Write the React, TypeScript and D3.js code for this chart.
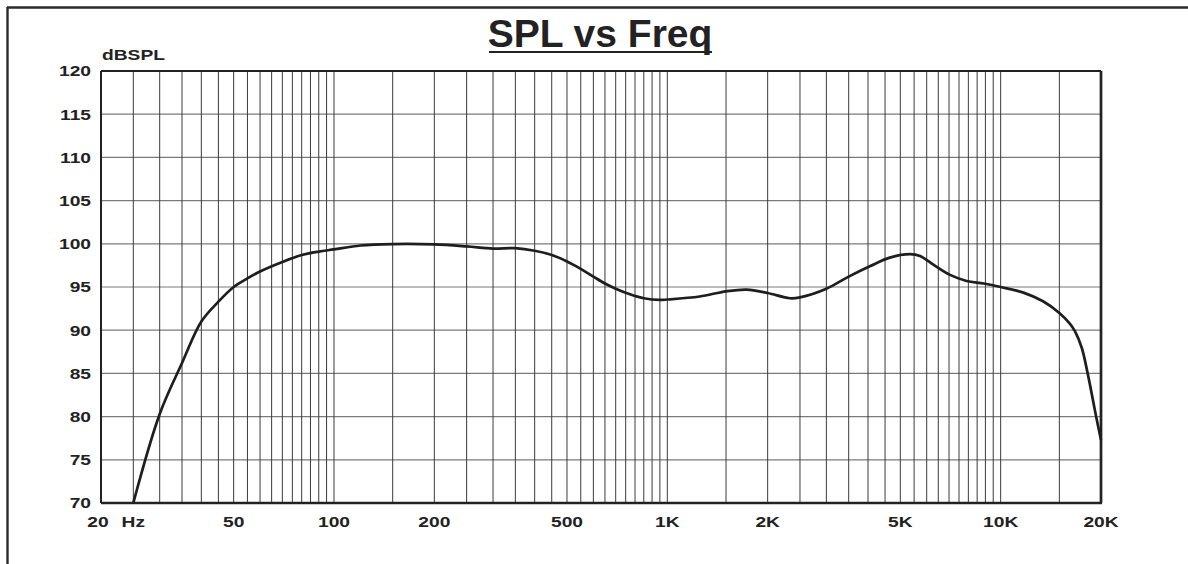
import React from 'react';
import * as d3 from 'd3';

// frequency response (Hz, dB SPL)
const freqs = [25, 30, 35, 40, 45, 50, 55, 60, 70, 80, 90, 100, 120, 150, 200, 250, 300, 350, 400, 450, 500, 550, 600, 650, 700, 780, 850, 950, 1000, 1250, 1500, 1730, 2000, 2330, 2500, 3000, 3500, 4050, 4650, 5350, 5730, 6280, 7050, 7900, 8900, 10000, 11700, 13400, 15000, 16100, 16700, 17500, 18240, 19340, 20000];
const spl = [70, 80.3, 86.2, 91.0, 93.3, 95.0, 96.0, 96.8, 97.9, 98.7, 99.1, 99.35, 99.8, 99.97, 99.93, 99.7, 99.45, 99.5, 99.2, 98.7, 97.96, 97.1, 96.2, 95.4, 94.8, 94.1, 93.7, 93.5, 93.55, 93.9, 94.5, 94.7, 94.3, 93.7, 93.8, 94.8, 96.2, 97.4, 98.4, 98.8, 98.6, 97.6, 96.4, 95.7, 95.4, 95.0, 94.35, 93.35, 92.0, 90.8, 89.9, 88.0, 85.0, 80.0, 77.3];

const xTickValues = [20, 50, 100, 200, 500, 1000, 2000, 5000, 10000, 20000];
const xTickLabels = ['20', '50', '100', '200', '500', '1K', '2K', '5K', '10K', '20K'];
const yTickValues = [70, 75, 80, 85, 90, 95, 100, 105, 110, 115, 120];

const title = 'SPL vs Freq';
const yUnit = 'dBSPL';
const xUnit = 'Hz';

const W = 1188;
const H = 564;
const margin = { left: 101, right: 87, top: 71, bottom: 61 };

const App = () => {
  const x = d3.scaleLog().domain([20, 20000]).range([margin.left, W - margin.right]);
  const y = d3.scaleLinear().domain([70, 120]).range([H - margin.bottom, margin.top]);

  // grid: 5 Hz steps in the first decade, then 50, 500, 5000
  const gridFreqs = [
    ...d3.range(25, 100, 5),
    ...d3.range(100, 1000, 50),
    ...d3.range(1000, 10000, 500),
    10000, 15000,
  ];

  const pts: [number, number][] = freqs.map((f, i) => [x(f), y(spl[i])]);
  const line = d3.line().curve(d3.curveCatmullRom.alpha(0.5));

  const labelFont = {
    fontFamily: '"Liberation Sans", Arial, sans-serif',
    fontWeight: 700,
    fontSize: 15,
    fill: '#222',
  };
  const sx = 1.28; // tick font is drawn wide in the original

  const x0 = margin.left;
  const x1 = W - margin.right;
  const y0 = H - margin.bottom;
  const y1 = margin.top;

  return (
    <svg width={W} height={H} style={{ position: 'absolute', left: 0, top: 0, background: '#fff' }}>
      {/* outer frame (top and left only) */}
      <line x1={7} x2={W} y1={7.5} y2={7.5} stroke="#2a2a2a" strokeWidth={2.4} />
      <line x1={7.5} x2={7.5} y1={7} y2={H} stroke="#2a2a2a" strokeWidth={2.4} />

      {/* title */}
      <text x={600} y={47} textAnchor="middle" style={{ ...labelFont, fontSize: 39 }}>{title}</text>
      <line x1={489} x2={712} y1={52} y2={52} stroke="#222" strokeWidth={2} />

      {/* horizontal grid */}
      {yTickValues.slice(1, -1).map(v => (
        <line key={'h' + v} x1={x0} x2={x1} y1={y(v)} y2={y(v)} stroke="#7a7a7a" strokeWidth={1.2} />
      ))}
      {/* vertical grid */}
      {gridFreqs.map(f => (
        <line key={'v' + f} x1={x(f)} x2={x(f)} y1={y1} y2={y0} stroke="#3a3a3a" strokeWidth={1} />
      ))}

      {/* plot frame */}
      <line x1={x0} x2={x1} y1={y1} y2={y1} stroke="#222" strokeWidth={2} />
      <line x1={x0} x2={x1 + 1} y1={y0} y2={y0} stroke="#222" strokeWidth={2.5} />
      <line x1={x0} x2={x0} y1={y1} y2={y0} stroke="#222" strokeWidth={2} />
      <line x1={x1} x2={x1} y1={y1} y2={y0} stroke="#222" strokeWidth={2.7} />

      {/* response curve */}
      <path d={line(pts) || ''} fill="none" stroke="#1e1e1e" strokeWidth={2.7} strokeLinejoin="round" />

      {/* y tick labels */}
      {yTickValues.map(v => (
        <g key={'yl' + v} transform={`translate(${x0 - 10},${y(v) + 5.3}) scale(${sx},1)`}>
          <text textAnchor="end" style={labelFont}>{v}</text>
        </g>
      ))}
      <g transform={`translate(${x0 + 1},60) scale(${sx},1)`}>
        <text style={labelFont}>{yUnit}</text>
      </g>

      {/* x tick labels */}
      {xTickValues.map((v, i) => (
        <g key={'xl' + v} transform={`translate(${x(v) - (i === 0 ? 3 : 0)},526.5) scale(${sx},1)`}>
          <text textAnchor="middle" style={labelFont}>{xTickLabels[i]}</text>
        </g>
      ))}
      <g transform={`translate(${x(25)},526.5) scale(${sx},1)`}>
        <text textAnchor="middle" style={labelFont}>{xUnit}</text>
      </g>
    </svg>
  );
};

export default App;
